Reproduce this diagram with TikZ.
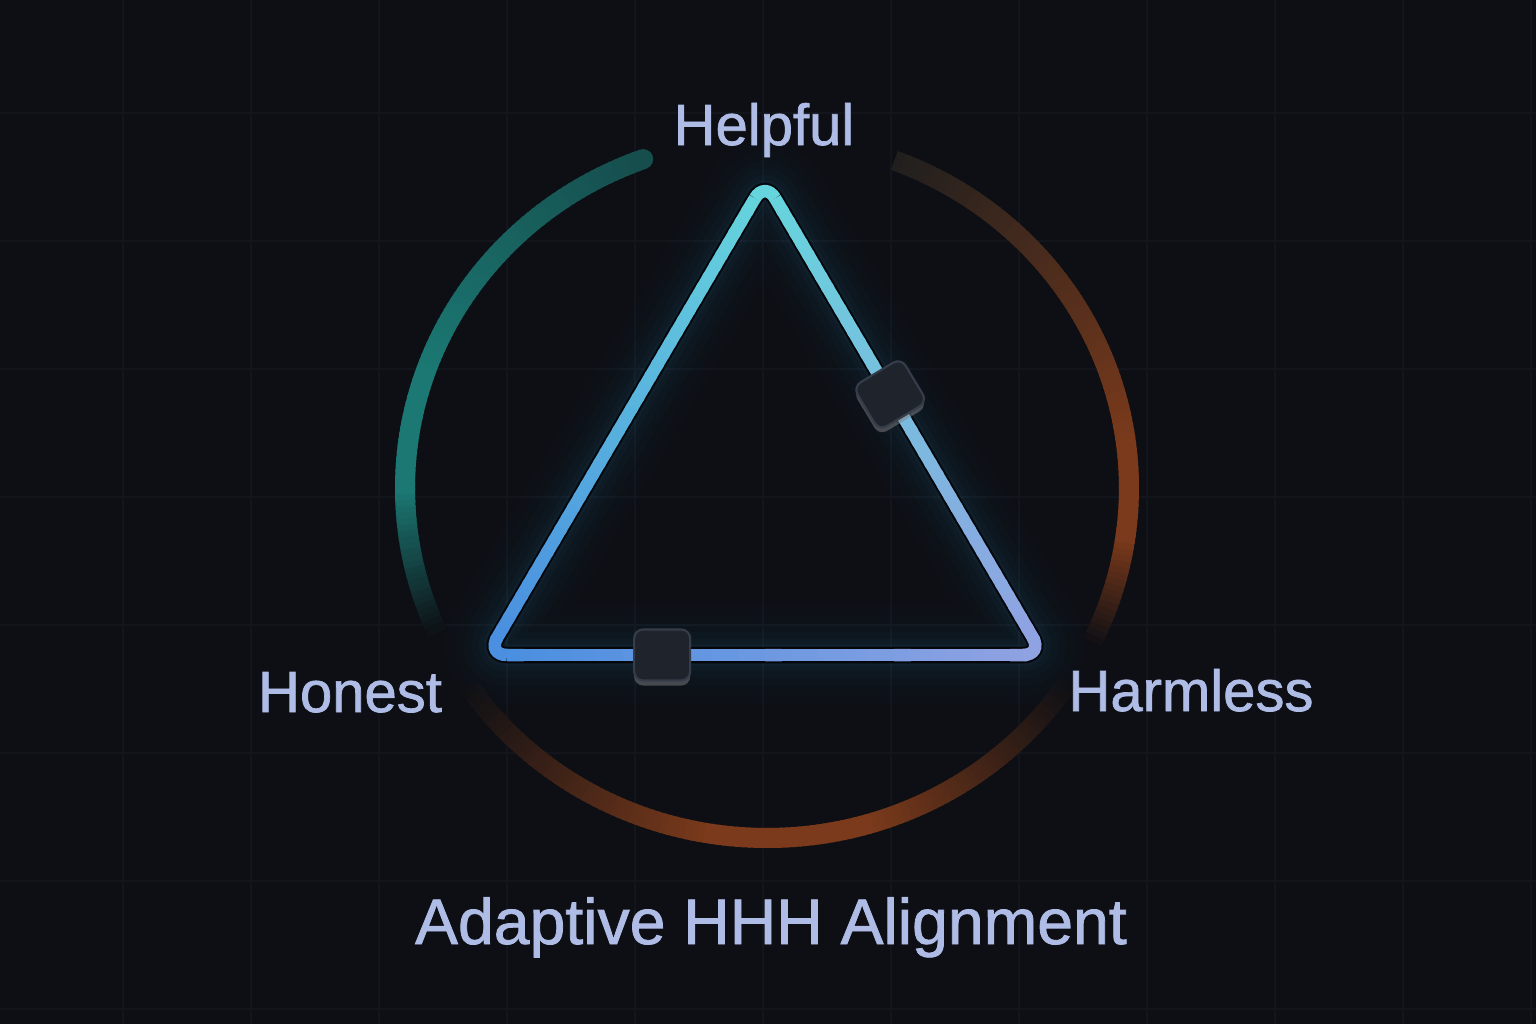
\documentclass[tikz,border=0pt]{standalone}
\usepackage{fontspec}
\setmainfont{Liberation Sans}
\newfontfamily\tagfont{Liberation Sans}[FakeBold=1.2]
\usetikzlibrary{calc,shadows}

\definecolor{bgC}{HTML}{0D0F14}
\definecolor{gridC}{HTML}{12151C}
\definecolor{tealC}{HTML}{1B7873}
\definecolor{rustC}{HTML}{7B3A1B}
\definecolor{ashC}{HTML}{201F1E}
\definecolor{cyanC}{HTML}{66D4DC}
\definecolor{blueC}{HTML}{4A8FE0}
\definecolor{lavC}{HTML}{8FA2E2}
\definecolor{glowC}{HTML}{2A8CB0}
\definecolor{knobC}{HTML}{1F232C}
\definecolor{rimC}{HTML}{363C49}
\definecolor{textC}{HTML}{AFBCE5}

\tikzset{
  gridline/.style={gridC, line width=0.025cm},
  arcstroke/.style={line width=0.2cm},
  sidestroke/.style={line width=0.125cm},
  knob/.style={draw=rimC, fill=knobC, line width=0.6pt, rounded corners=0.09cm,
    minimum width=0.56cm, minimum height=0.51cm, inner sep=0pt,
    drop shadow={opacity=0.5, shadow xshift=0cm, shadow yshift=-0.05cm}},
  hlabel/.style={text=textC, font=\tagfont\fontsize{16.5pt}{20pt}\selectfont, anchor=base},
}

\begin{document}
\begin{tikzpicture}[x=0.01cm, y=-0.01cm]
  \useasboundingbox (0,0) rectangle (1536,1024);
  \fill[bgC] (0,0) rectangle (1536,1024);
  \foreach \x in {123,251,...,1536}
    \draw[gridline] (\x,0) -- (\x,1024);
  \foreach \y in {113,241,...,1024}
    \draw[gridline] (0,\y) -- (1536,\y);

  % outer ring, three fading arcs
  \foreach \ang in {110,...,203} {
    \pgfmathtruncatemacro\p{min(100, 60+40*(\ang-110)/50, 100*(204-\ang)/24)}
    \draw[arcstroke, tealC!\p!bgC] ({767+362*cos(\ang)}, {488-350*sin(\ang)})
      -- ({767+362*cos(\ang+1.4)}, {488-350*sin(\ang+1.4)});
  }
  \fill[tealC!60!bgC] ({767+362*cos(110)}, {488-350*sin(110)}) circle[radius=0.1cm];
  \foreach \ang in {-26,...,68} {
    \pgfmathtruncatemacro\q{min(100, 100*(69-\ang)/62)}
    \pgfmathtruncatemacro\p{min(100, 100*(\ang+27)/18)}
    \draw[arcstroke, rustC!\q!ashC!\p!bgC] ({767+362*cos(\ang)}, {488-350*sin(\ang)})
      -- ({767+362*cos(\ang+1.4)}, {488-350*sin(\ang+1.4)});
  }
  \foreach \ang in {214,...,325} {
    \pgfmathtruncatemacro\p{min(100, 100*(\ang-213)/47, 100*(326-\ang)/40)}
    \draw[arcstroke, rustC!\p!bgC] ({767+362*cos(\ang)}, {488-350*sin(\ang)})
      -- ({767+362*cos(\ang+1.4)}, {488-350*sin(\ang+1.4)});
  }

  % triangle
  \coordinate (A) at (765,181);
  \coordinate (B) at (487,655);
  \coordinate (C) at (1043,655);
  \foreach \w/\o in {1.0/0.015, 0.8/0.02, 0.62/0.025, 0.46/0.03, 0.32/0.04, 0.22/0.05}
    \draw[glowC, line width=\w cm, opacity=\o, rounded corners=0.2cm, line join=round]
      (A) -- (B) -- (C) -- cycle;
  \draw[bgC!50!black, line width=0.165cm, rounded corners=0.2cm] (A) -- (B) -- (C) -- cycle;

  \coordinate (AB) at ($(A)!0.2cm!(B)$);
  \coordinate (BA) at ($(B)!0.2cm!(A)$);
  \coordinate (AC) at ($(A)!0.2cm!(C)$);
  \coordinate (CA) at ($(C)!0.2cm!(A)$);
  \coordinate (BC) at ($(B)!0.2cm!(C)$);
  \coordinate (CB) at ($(C)!0.2cm!(B)$);
  \foreach \i in {0,...,39} {
    \pgfmathsetmacro\ua{\i/40}
    \pgfmathsetmacro\ub{(\i+1.3)/40}
    \pgfmathtruncatemacro\p{100-100*(\i+0.5)/40}
    \draw[sidestroke, cyanC!\p!blueC] ($(AB)!\ua!(BA)$) -- ($(AB)!\ub!(BA)$);
    \draw[sidestroke, cyanC!\p!lavC] ($(AC)!\ua!(CA)$) -- ($(AC)!\ub!(CA)$);
    \draw[sidestroke, blueC!\p!lavC] ($(BC)!\ua!(CB)$) -- ($(BC)!\ub!(CB)$);
  }
  \draw[sidestroke, cyanC, rounded corners=0.2cm] (AB) -- (A) -- (AC);
  \draw[sidestroke, blueC, rounded corners=0.2cm] (BA) -- (B) -- (BC);
  \draw[sidestroke, lavC, rounded corners=0.2cm] (CA) -- (C) -- (CB);

  \node[knob, rotate=31] (knobR) at ($(A)!0.45!(C)$) {};
  \node[knob] (knobB) at ($(B)!0.315!(C)$) {};

  \node[hlabel] (helpful) at (764,145) {Helpful};
  \node[hlabel] (honest) at (350,712) {Honest};
  \node[hlabel] (harmless) at (1191,711) {Harmless};
  \node[hlabel, font=\tagfont\fontsize{18.3pt}{22pt}\selectfont] (title) at (771,944) {Adaptive HHH Alignment};
\end{tikzpicture}
\end{document}
